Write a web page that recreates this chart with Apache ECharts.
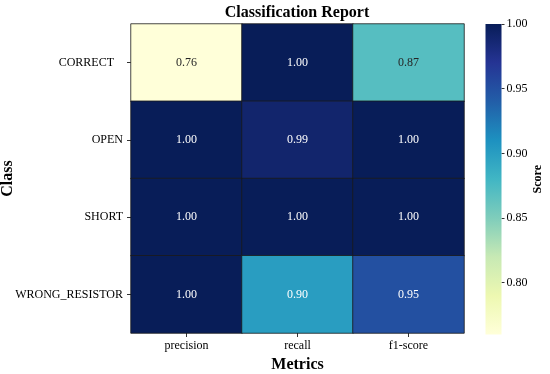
<!DOCTYPE html>
<html>
<head>
<meta charset="utf-8">
<script src="https://cdn.jsdelivr.net/npm/echarts@6/dist/echarts.min.js"></script>
<style>html,body{margin:0;padding:0;background:#fff;}#chart{width:550px;height:374px;}</style>
</head>
<body>
<div id="chart"></div>
<script>
// ---- data ----
const classes = ['CORRECT   ', 'OPEN', 'SHORT', 'WRONG_RESISTOR'];
const metrics = ['precision', 'recall', 'f1-score'];
const precisionVals = [0.76, 1.00, 1.00, 1.00];
const recallVals    = [1.00, 0.99, 1.00, 0.90];
const f1Vals        = [0.87, 1.00, 1.00, 0.95];
const cbTicks = [0.80, 0.85, 0.90, 0.95, 1.00];
const scoreMin = 0.76;
const scoreMax = 1.00;

// YlGnBu colormap
const ylgnbu = ['#ffffd9', '#edf8b1', '#c7e9b4', '#7fcdbb', '#41b6c4', '#1d91c0', '#225ea8', '#253494', '#081d58'];
const FONT = '"Liberation Serif", "Times New Roman", serif';

const cols = [precisionVals, recallVals, f1Vals];
const heatData = [];
cols.forEach((arr, xi) => {
  arr.forEach((v, yi) => {
    const t = (v - scoreMin) / (scoreMax - scoreMin);
    heatData.push({
      value: [xi, yi, v],
      label: { color: t < 0.5 ? '#262626' : '#ffffff' }
    });
  });
});

const gradStops = ylgnbu.map((c, i) => ({ offset: 1 - i / (ylgnbu.length - 1), color: c }));

const chart = echarts.init(document.getElementById('chart'), null, { renderer: 'canvas' });
chart.setOption({
  animation: false,
  backgroundColor: '#fff',
  textStyle: { fontFamily: FONT },
  title: {
    text: 'Classification Report',
    left: 292, top: 0, textAlign: 'center',
    textStyle: { fontFamily: FONT, fontSize: 16, fontWeight: 'bold', color: '#000' }
  },
  grid: [
    { left: 131, top: 24, width: 333, height: 309, outerBoundsMode: 'none', containLabel: false },
    { left: 485.5, top: 24, width: 16, height: 310.5, outerBoundsMode: 'none', containLabel: false }
  ],
  xAxis: [
    {
      type: 'category', gridIndex: 0, data: metrics, position: 'bottom',
      axisLine: { show: false },
      axisTick: { show: true, alignWithLabel: true, length: 4, lineStyle: { color: '#333' } },
      axisLabel: { fontFamily: FONT, fontSize: 12, color: '#000', margin: 7 },
      splitLine: { show: false },
      name: 'Metrics', nameLocation: 'middle', nameGap: 20,
      nameTextStyle: { fontFamily: FONT, fontSize: 16, fontWeight: 'bold', color: '#000' }
    },
    {
      type: 'category', gridIndex: 1, data: [''], show: false
    }
  ],
  yAxis: [
    {
      type: 'category', gridIndex: 0, data: classes, inverse: true,
      axisLine: { show: false },
      axisTick: { show: true, alignWithLabel: true, length: 4, lineStyle: { color: '#333' } },
      axisLabel: { fontFamily: FONT, fontSize: 12, color: '#000', margin: 8 },
      splitLine: { show: false },
      name: 'Class', nameLocation: 'middle', nameGap: 115, nameRotate: 90, nameMoveOverlap: false,
      nameTextStyle: { fontFamily: FONT, fontSize: 16, fontWeight: 'bold', color: '#000' }
    },
    {
      type: 'value', gridIndex: 1, position: 'right', min: scoreMin, max: scoreMax,
      axisLine: { show: false },
      axisTick: { show: true, length: 3, customValues: cbTicks, lineStyle: { color: '#333' } },
      axisLabel: { fontFamily: FONT, fontSize: 12, color: '#000', margin: 5, customValues: cbTicks,
        formatter: v => Number(v).toFixed(2) },
      splitLine: { show: false },
      name: 'Score', nameLocation: 'middle', nameGap: 30, nameRotate: 90,
      nameTextStyle: { fontFamily: FONT, fontSize: 12, fontWeight: 'bold', color: '#000' }
    }
  ],
  visualMap: {
    show: false, seriesIndex: 0, dimension: 2,
    min: scoreMin, max: scoreMax, calculable: false,
    inRange: { color: ylgnbu }
  },
  series: [
    {
      type: 'heatmap', xAxisIndex: 0, yAxisIndex: 0, data: heatData,
      itemStyle: { borderColor: '#1a1a1a', borderWidth: 0.8 },
      label: { show: true, fontFamily: FONT, fontSize: 12, formatter: p => p.value[2].toFixed(2) },
      emphasis: { disabled: true }
    },
    {
      type: 'custom', xAxisIndex: 1, yAxisIndex: 1, data: [[0, scoreMin, scoreMax]],
      silent: true,
      renderItem: (params, api) => {
        const lo = api.coord([api.value(0), api.value(1)]);
        const hi = api.coord([api.value(0), api.value(2)]);
        const w = api.size([1, 0])[0];
        return {
          type: 'rect',
          shape: { x: lo[0] - w / 2, y: hi[1], width: w, height: lo[1] - hi[1] },
          style: { fill: new echarts.graphic.LinearGradient(0, 0, 0, 1, gradStops) }
        };
      }
    }
  ]
});
</script>
</body>
</html>
